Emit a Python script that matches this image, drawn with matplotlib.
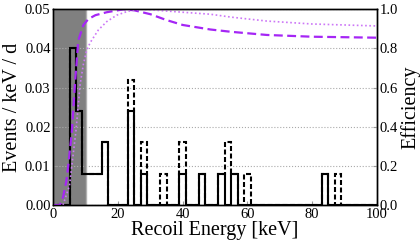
"""
Recoil energy spectrum with detection efficiency curves.
"""

import numpy as np
import matplotlib
matplotlib.use("Agg")
import matplotlib.pyplot as plt

# ----------------------------------------------------------
# Data
# ----------------------------------------------------------
bin_edges = np.arange(1, 103, 2)          # 2 keV wide bins

# lower edge of each non-empty bin and its rate [events/keV/d]
solid_lo = [5, 7, 9, 11, 13, 15, 23, 27, 39, 45, 51, 55, 83]
solid_rate = [0.040, 0.024, 0.008, 0.008, 0.008, 0.016, 0.024,
              0.008, 0.008, 0.008, 0.008, 0.008, 0.008]

dashed_lo = [5, 7, 9, 11, 13, 15, 23, 27, 33, 39, 45, 51, 53, 55, 59, 83, 87]
dashed_rate = [0.040, 0.024, 0.008, 0.008, 0.008, 0.016, 0.032, 0.016,
               0.008, 0.016, 0.008, 0.008, 0.016, 0.008, 0.008, 0.008, 0.008]

# efficiency curves (right axis)
eff_a_e = [0, 2, 3, 4, 4.6, 5.7, 6.7, 7.7, 9.3, 10.8, 13, 16.5, 21.7,
           25, 30, 35, 40, 48.5, 55, 66, 80, 100]
eff_a = [0, 0, 0.04, 0.12, 0.2, 0.37, 0.62, 0.84, 0.92, 0.95, 0.97, 0.985,
         1.0, 0.995, 0.975, 0.945, 0.92, 0.897, 0.885, 0.869, 0.86, 0.855]

eff_b_e = [3, 5, 7, 8.3, 9.3, 10.3, 11.4, 13.9, 16.5, 19.6, 23, 27, 32,
           40, 48.5, 55, 66, 80, 100]
eff_b = [0, 0.1, 0.38, 0.62, 0.72, 0.79, 0.83, 0.894, 0.937, 0.97, 0.99,
         1.0, 0.995, 0.985, 0.975, 0.96, 0.94, 0.925, 0.915]

threshold = 10  # keV, shaded region


def fill_bins(lo, rate):
    vals = np.zeros(len(bin_edges) - 1)
    for l, r in zip(lo, rate):
        vals[np.searchsorted(bin_edges, l)] = r
    return vals


plt.rcParams['font.family'] = ['Liberation Serif', 'DejaVu Serif']
plt.rcParams['mathtext.fontset'] = 'stix'

fig = plt.figure(figsize=(4.2, 2.45), dpi=100)
ax = fig.add_axes([0.127, 0.163, 0.770, 0.799])
ax2 = ax.twinx()

ax.axvspan(0, threshold, facecolor='#808080', edgecolor='#b0b0b0', lw=1, zorder=0)

ax.stairs(fill_bins(dashed_lo, dashed_rate), bin_edges, color='black',
          lw=1.5, ls=(0, (2.4, 1.2)), zorder=2)
ax.stairs(fill_bins(solid_lo, solid_rate), bin_edges, color='black',
          lw=1.5, zorder=3)

ax2.plot(eff_a_e, eff_a, color='#a526f5', lw=1.6, ls=(0, (4, 2)))
ax2.plot(eff_b_e, eff_b, color='#cc77f7', lw=1.2, ls=(0, (1, 1.5)))

ax.set_xlim(0, 100)
ax.set_ylim(0, 0.05)
ax2.set_ylim(0, 1.0)
ax.set_xticks([0, 20, 40, 60, 80, 100])
ax.set_yticks([0, 0.01, 0.02, 0.03, 0.04, 0.05])
ax.set_yticklabels(["0.00", "0.01", "0.02", "0.03", "0.04", "0.05"])
ax2.set_yticks([0, 0.2, 0.4, 0.6, 0.8, 1.0])
ax.yaxis.grid(True, color='#aaaaaa', ls=':', lw=0.8)

for a in (ax, ax2):
    a.tick_params(direction='in', length=3, color='#999999',
                  labelsize=10.5, pad=2)
    for s in a.spines.values():
        s.set_linewidth(1.0)

ax.set_xlabel("Recoil Energy [keV]", fontsize=14.5, labelpad=0)
ax.set_ylabel("Events / keV / d", fontsize=14.5, labelpad=2)
ax2.set_ylabel("Efficiency", fontsize=14.5, labelpad=2)

fig.savefig("out.png", dpi=100)
